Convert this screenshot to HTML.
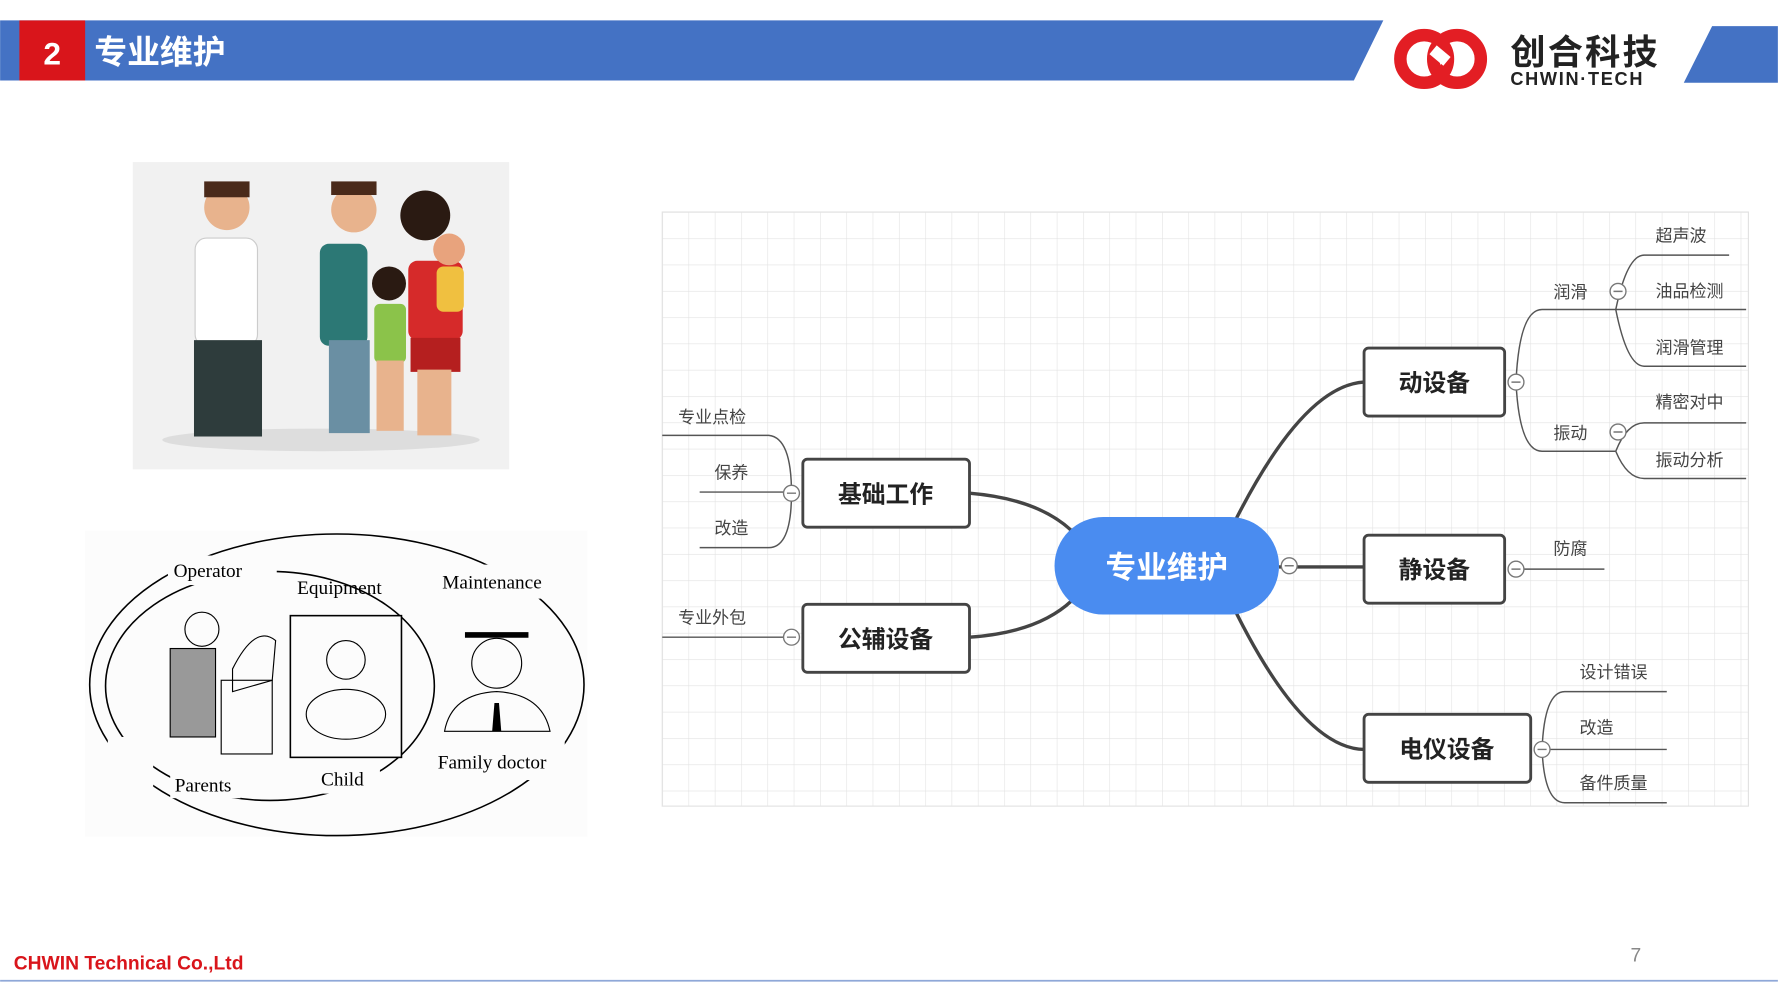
<!DOCTYPE html>
<html><head><meta charset="utf-8"><style>
html,body{margin:0;padding:0;background:#fff;width:1778px;height:1000px;overflow:hidden}
svg{display:block}
text{font-family:"Liberation Sans","Noto Sans CJK SC",sans-serif}
.cj{font-family:"Noto Sans CJK SC","WenQuanYi Zen Hei",sans-serif}
.sr{font-family:"Liberation Serif",serif;font-size:17px;fill:#000}
.lf{font-size:15px;fill:#444}
.nd{font-size:21px;font-weight:bold;fill:#222}
</style></head><body>
<svg width="1778" height="1000" viewBox="0 0 1568 882" xmlns="http://www.w3.org/2000/svg">
<defs>
<pattern id="g" x="584" y="187" width="23.2" height="23.2" patternUnits="userSpaceOnUse">
<path d="M0 0V23.2M0 0H23.2" stroke="#e2e2e2" stroke-width="1" fill="none"/>
</pattern>
</defs>
<!-- header -->
<polygon points="0,18 1220,18 1194,71 0,71" fill="#4472c4"/>
<rect x="17" y="18" width="58" height="53" fill="#d9151b"/>
<text x="46" y="57" text-anchor="middle" font-size="28" font-weight="bold" fill="#fff">2</text>
<text x="83" y="56" class="cj" font-size="29" font-weight="bold" fill="#fff">专业维护</text>
<polygon points="1510,23 1568,23 1568,73 1485,73" fill="#4472c4"/>
<!-- logo -->
<circle cx="1256" cy="52" r="21" fill="none" stroke="#e31e24" stroke-width="11"/>
<circle cx="1285" cy="52" r="21" fill="none" stroke="#e31e24" stroke-width="11"/>
<rect x="1262" y="44" width="16" height="10" fill="#fff" transform="rotate(40 1270 49)"/>
<text x="1332" y="57" class="cj" font-size="31" font-weight="bold" fill="#222" letter-spacing="2">创合科技</text>
<text x="1332" y="75" font-size="16" font-weight="bold" fill="#222" letter-spacing="1.5">CHWIN·TECH</text>
<!-- family picture -->
<rect x="117" y="143" width="332" height="271" fill="#f1f1f1"/>
<ellipse cx="283" cy="388" rx="140" ry="10" fill="#ddd"/>
<rect x="172" y="210" width="55" height="95" rx="10" fill="#fff" stroke="#ccc"/>
<circle cx="200" cy="183" r="20" fill="#e8b38d"/><rect x="180" y="160" width="40" height="14" fill="#4a2a1a"/>
<rect x="171" y="300" width="60" height="85" fill="#2e3c3c"/>
<rect x="282" y="215" width="42" height="90" rx="8" fill="#2c7875"/>
<circle cx="312" cy="185" r="20" fill="#e8b38d"/><rect x="292" y="160" width="40" height="12" fill="#4a2a1a"/>
<rect x="290" y="300" width="36" height="82" fill="#6a8fa3"/>
<circle cx="375" cy="190" r="22" fill="#2a1a12"/>
<rect x="360" y="230" width="48" height="70" rx="8" fill="#d62a2a"/>
<rect x="362" y="298" width="44" height="30" fill="#b51f1f"/>
<rect x="368" y="326" width="30" height="58" fill="#e8b38d"/>
<circle cx="396" cy="220" r="14" fill="#e8a37d"/><rect x="385" y="235" width="24" height="40" rx="6" fill="#f0c040"/>
<circle cx="343" cy="250" r="15" fill="#2a1a12"/>
<rect x="330" y="268" width="28" height="52" rx="5" fill="#8bc34a"/>
<rect x="332" y="318" width="24" height="62" fill="#e8b38d"/>
<!-- oval diagram -->
<rect x="75" y="468" width="443" height="270" fill="#fcfcfc"/>
<g fill="none" stroke="#000" stroke-width="1.4">
<ellipse cx="297" cy="604" rx="218" ry="133"/>
<ellipse cx="238" cy="605" rx="145" ry="101"/>
<rect x="256" y="543" width="98" height="125" fill="#fcfcfc"/>
</g>
<g fill="#fcfcfc">
<rect x="148" y="490" width="96" height="26"/>
<rect x="382" y="498" width="112" height="30"/>
<rect x="150" y="680" width="62" height="24"/>
<rect x="275" y="674" width="60" height="26"/>
<rect x="378" y="652" width="120" height="36"/>
<rect x="95" y="650" width="40" height="50"/>
</g>
<circle cx="305" cy="582" r="17" fill="none" stroke="#000"/>
<ellipse cx="305" cy="630" rx="35" ry="22" fill="none" stroke="#000"/>
<circle cx="178" cy="555" r="15" fill="none" stroke="#000"/>
<rect x="150" y="572" width="40" height="78" fill="#999" stroke="#000"/>
<path d="M205 590 Q225 550 243 565 L240 600 L205 610 Z" fill="none" stroke="#000"/>
<rect x="195" y="600" width="45" height="65" fill="none" stroke="#000"/>
<circle cx="438" cy="585" r="22" fill="none" stroke="#000"/>
<path d="M410 560 H466" stroke="#000" stroke-width="5"/>
<path d="M392 645 Q398 612 438 610 Q478 612 485 645 Z" fill="none" stroke="#000"/>
<path d="M436 620 L440 620 L442 645 L434 645 Z" fill="#000"/>
<text x="153" y="509" class="sr">Operator</text>
<text x="262" y="524" class="sr">Equipment</text>
<text x="390" y="519" class="sr">Maintenance</text>
<text x="154" y="698" class="sr">Parents</text>
<text x="283" y="693" class="sr">Child</text>
<text x="386" y="678" class="sr">Family doctor</text>
<!-- mind map grid -->
<rect x="584" y="187" width="958" height="524" fill="url(#g)" stroke="#e2e2e2"/>
<g fill="none" stroke="#444" stroke-width="3">
<path d="M855 435 Q915 440 945 468"/>
<path d="M855 562 Q915 558 945 530"/>
<path d="M1090 458 Q1150 340 1203 337"/>
<path d="M1128 500 H1203"/>
<path d="M1090 540 Q1150 660 1203 661"/>
</g>
<g fill="none" stroke="#555" stroke-width="1.3">
<path d="M584 384 H678 Q698 386 698 435 Q698 483 678 483 H617"/>
<path d="M617 434 H698"/>
<path d="M584 562 H698"/>
<path d="M1337 337 Q1340 273 1360 273 H1425"/>
<path d="M1337 337 Q1340 398 1360 398 H1425"/>
<path d="M1425 273 Q1435 225 1450 225 H1525"/>
<path d="M1425 273 H1540"/>
<path d="M1425 273 Q1435 323 1450 323 H1540"/>
<path d="M1425 398 Q1435 373 1450 373 H1540"/>
<path d="M1425 398 Q1435 422 1450 422 H1540"/>
<path d="M1337 502 H1415"/>
<path d="M1360 661 Q1362 610 1380 610 H1470"/>
<path d="M1360 661 H1470"/>
<path d="M1360 661 Q1362 708 1380 708 H1470"/>
</g>
<g fill="#fff" stroke="#777" stroke-width="1.2">
<circle cx="698" cy="435" r="7"/><circle cx="698" cy="562" r="7"/>
<circle cx="1337" cy="337" r="7"/><circle cx="1427" cy="257" r="7"/><circle cx="1427" cy="381" r="7"/>
<circle cx="1337" cy="502" r="7"/><circle cx="1360" cy="661" r="7"/><circle cx="1137" cy="499" r="7"/>
</g>
<g stroke="#777" stroke-width="1.3">
<path d="M694 435h8M694 562h8M1333 337h8M1423 257h8M1423 381h8M1333 502h8M1356 661h8M1133 499h8"/>
</g>
<rect x="930" y="456" width="198" height="86" rx="43" fill="#4a8cf0"/>
<text x="1029" y="510" text-anchor="middle" class="cj" font-size="27" font-weight="bold" fill="#fff">专业维护</text>
<g fill="#fff" stroke="#444" stroke-width="2.5">
<rect x="708" y="405" width="147" height="60" rx="4"/>
<rect x="708" y="533" width="147" height="60" rx="4"/>
<rect x="1203" y="307" width="124" height="60" rx="4"/>
<rect x="1203" y="472" width="124" height="60" rx="4"/>
<rect x="1203" y="630" width="147" height="60" rx="4"/>
</g>
<g text-anchor="middle">
<text x="781" y="443" class="cj nd">基础工作</text>
<text x="781" y="571" class="cj nd">公辅设备</text>
<text x="1265" y="345" class="cj nd">动设备</text>
<text x="1265" y="510" class="cj nd">静设备</text>
<text x="1276" y="668" class="cj nd">电仪设备</text>
</g>
<g>
<text x="598" y="373" class="cj lf">专业点检</text>
<text x="630" y="422" class="cj lf">保养</text>
<text x="630" y="471" class="cj lf">改造</text>
<text x="598" y="550" class="cj lf">专业外包</text>
<text x="1370" y="263" class="cj lf">润滑</text>
<text x="1370" y="387" class="cj lf">振动</text>
<text x="1460" y="213" class="cj lf">超声波</text>
<text x="1460" y="262" class="cj lf">油品检测</text>
<text x="1460" y="312" class="cj lf">润滑管理</text>
<text x="1460" y="360" class="cj lf">精密对中</text>
<text x="1460" y="411" class="cj lf">振动分析</text>
<text x="1370" y="489" class="cj lf">防腐</text>
<text x="1393" y="598" class="cj lf">设计错误</text>
<text x="1393" y="647" class="cj lf">改造</text>
<text x="1393" y="696" class="cj lf">备件质量</text>
</g>
<!-- footer -->
<text x="12" y="855" font-size="17" font-weight="bold" fill="#d9151b">CHWIN Technical Co.,Ltd</text>
<line x1="0" y1="865" x2="1568" y2="865" stroke="#8fa8d8" stroke-width="1.5"/>
<text x="1438" y="848" font-size="17" fill="#888">7</text>
</svg>
</body></html>
